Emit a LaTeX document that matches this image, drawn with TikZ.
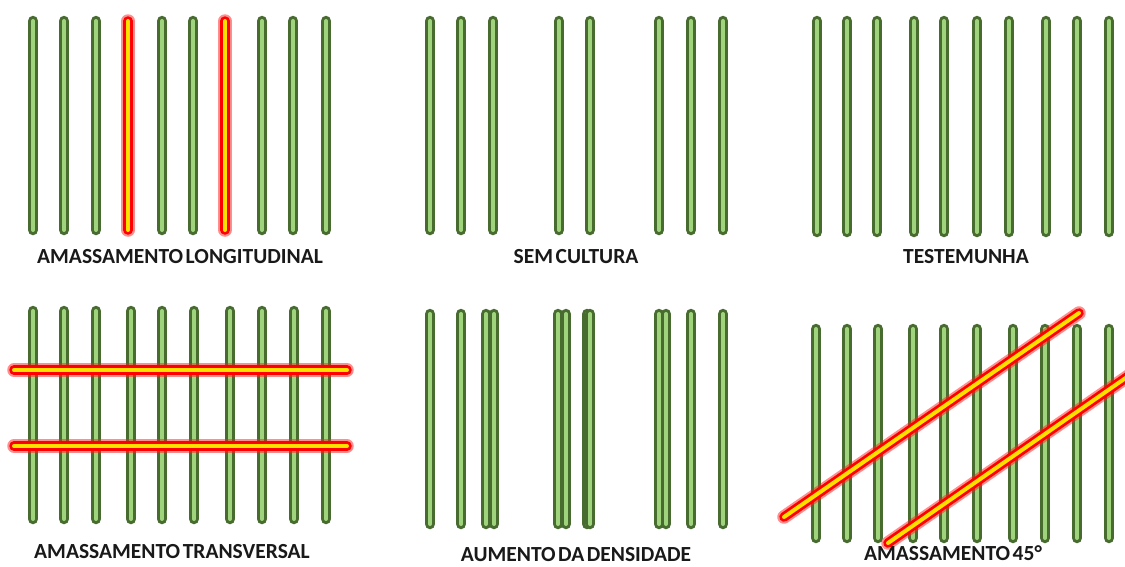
\documentclass[tikz,border=0pt]{standalone}
\usepackage{fontspec}
\setmainfont{Carlito}
\definecolor{darkg}{RGB}{72,108,48}
\definecolor{lightg}{RGB}{160,212,124}
\definecolor{glowred}{RGB}{255,30,30}
\definecolor{yel}{RGB}{255,225,0}
\tikzset{
  barout/.style={line width=10.5pt, line cap=round, darkg},
  barin/.style={line width=4pt, line cap=round, lightg},
  rglow/.style={line width=13.5pt, line cap=round, glowred, opacity=0.5},
  rout/.style={line width=9.5pt, line cap=round, red},
  rin/.style={line width=4pt, line cap=round, yel},
  lbl/.style={font=\bfseries\fontsize{21.5}{22}\selectfont, text=black!90, inner sep=0pt}
}
\newcommand{\plantbar}[3]{\draw[barout] (#1,#2) -- (#1,#3); \draw[barin] (#1,#2) -- (#1,#3);}
\newcommand{\roller}[4]{\draw[rglow] (#1,#2) -- (#3,#4); \draw[rout] (#1,#2) -- (#3,#4); \draw[rin] (#1,#2) -- (#3,#4);}
\newcommand{\wsp}{\hspace{0.12em}}
\begin{document}
\begin{tikzpicture}[x=1pt,y=-1pt]
\useasboundingbox (0,0) rectangle (1125,566);
\clip (0,0) rectangle (1125,566);
\fill[white] (0,0) rectangle (1125,566);
% Panel 1: longitudinal
\foreach \x in {33,64,96,162,193,262,293,326} {\plantbar{\x}{21}{230}}
\foreach \x in {128,225} {\roller{\x}{21}{\x}{230}}
\node[lbl] (t1) at (180,257) {AMASSAMENTO\wsp LONGITUDINAL};
% Panel 2: sem cultura
\foreach \x in {430,461,493,559,590,659,691,723} {\plantbar{\x}{21}{230}}
\node[lbl] (t2) at (576,257) {SEM\wsp CULTURA};
% Panel 3: testemunha
\foreach \x in {817,847,877,914,944,977,1009,1046,1077,1109} {\plantbar{\x}{21}{232}}
\node[lbl] (t3) at (966,257) {TESTEMUNHA};
% Panel 4: transversal
\foreach \x in {33,64,96,131,162,194,230,262,294,326} {\plantbar{\x}{311}{519}}
\roller{14}{370}{347}{370}
\roller{14}{446}{347}{446}
\node[lbl] (t4) at (172,552) {AMASSAMENTO\wsp TRANSVERSAL};
% Panel 5: aumento da densidade
\foreach \x in {430,461,486,494,558,566,587,590,659,666,691,723} {\plantbar{\x}{314}{524}}
\node[lbl] (t5) at (576,555) {AUMENTO\wsp DA\wsp DENSIDADE};
% Panel 6: 45 graus
\foreach \x in {816,847,878,913,944,977,1013,1045,1077,1109} {\plantbar{\x}{329}{538}}
\roller{784}{517}{1079}{313}
\roller{888}{543}{1140}{368}
\node[lbl] (t6) at (953,553) {AMASSAMENTO\wsp 45°};
\end{tikzpicture}
\end{document}
